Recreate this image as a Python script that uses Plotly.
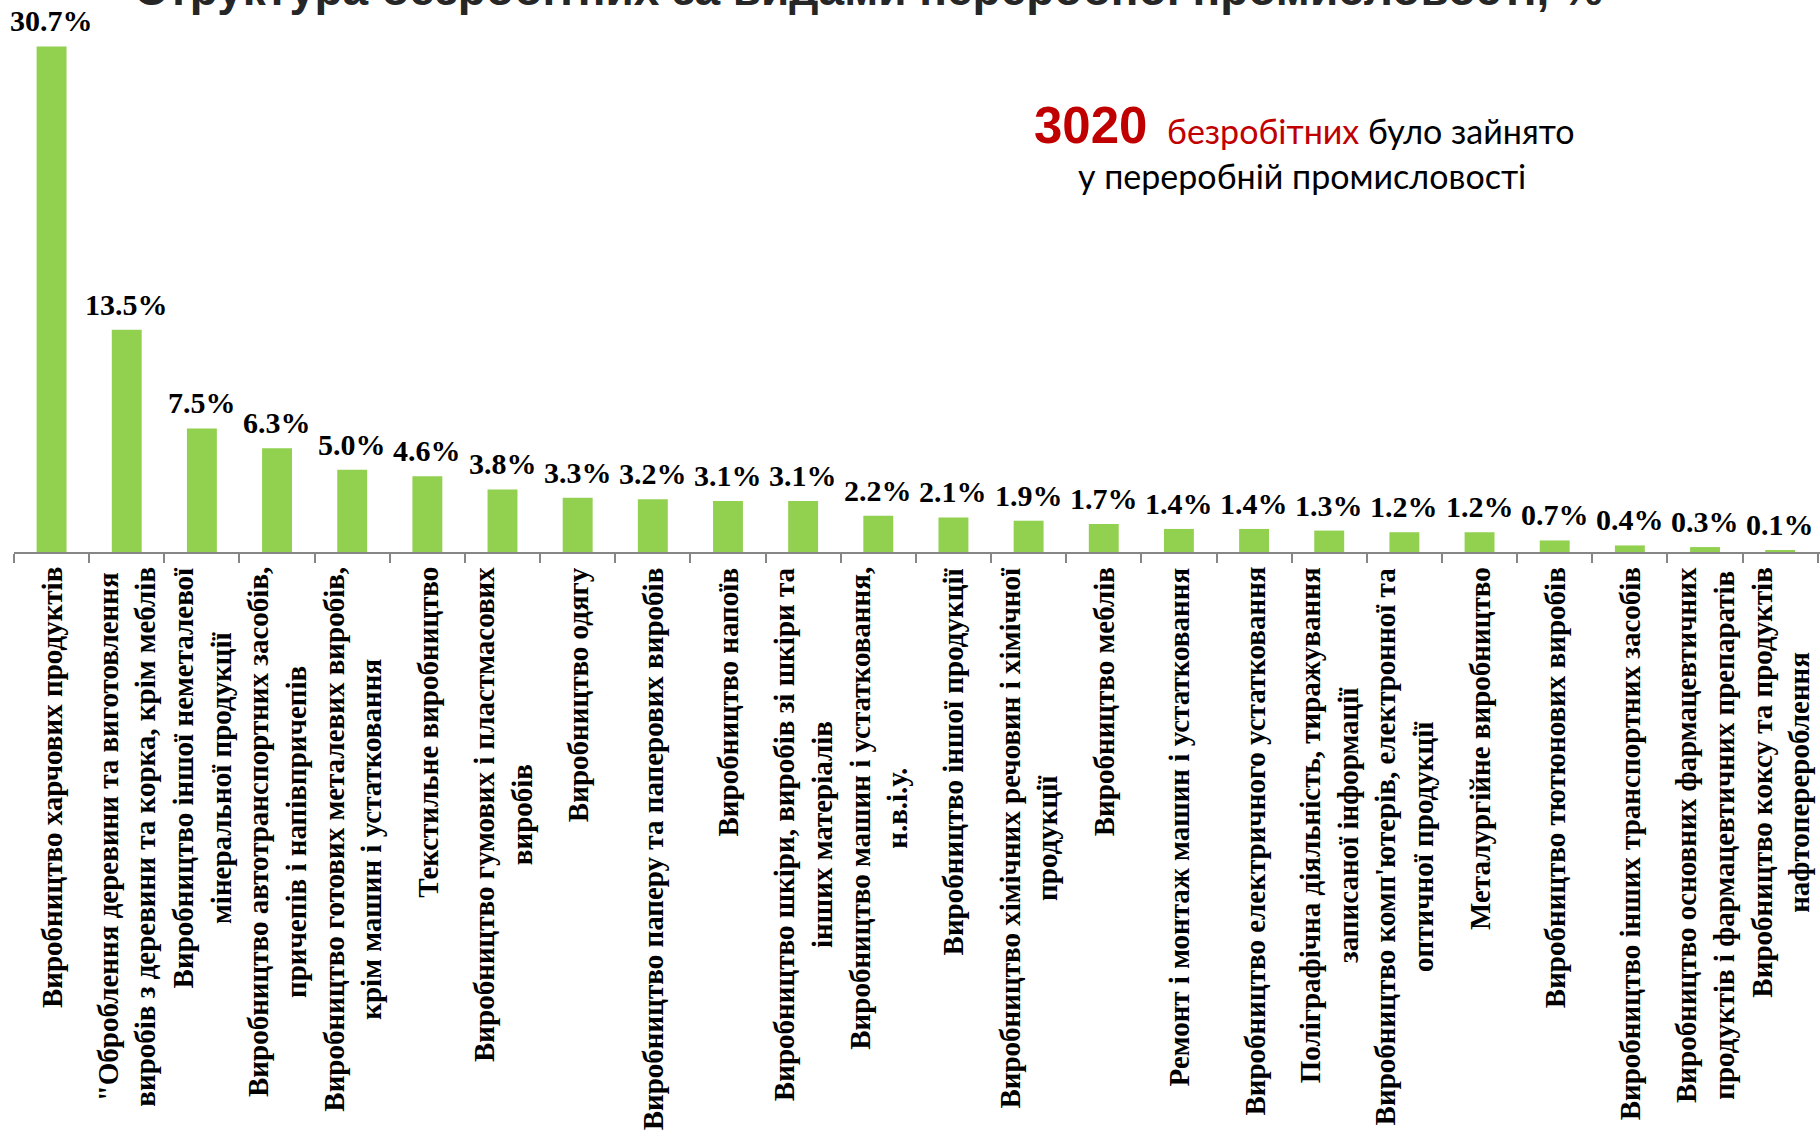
import plotly.graph_objects as go

categories = [
    "Виробництво харчових продуктів",
    "\"Оброблення деревини та виготовлення<br>виробів з деревини та корка, крім меблів",
    "Виробництво іншої неметалевої<br>мінеральної продукції",
    "Виробництво автотранспортних засобів,<br>причепів і напівпричепів",
    "Виробництво готових металевих виробів,<br>крім машин і устатковання",
    "Текстильне виробництво",
    "Виробництво гумових і пластмасових<br>виробів",
    "Виробництво одягу",
    "Виробництво паперу та паперових виробів",
    "Виробництво напоїв",
    "Виробництво шкіри, виробів зі шкіри та<br>інших матеріалів",
    "Виробництво машин і устатковання,<br>н.в.і.у.",
    "Виробництво іншої продукції",
    "Виробництво хімічних речовин і хімічної<br>продукції",
    "Виробництво меблів",
    "Ремонт і монтаж машин і устатковання",
    "Виробництво електричного устатковання",
    "Поліграфічна діяльність, тиражування<br>записаної інформації",
    "Виробництво комп'ютерів, електронної та<br>оптичної продукції",
    "Металургійне виробництво",
    "Виробництво тютюнових виробів",
    "Виробництво інших транспортних засобів",
    "Виробництво основних фармацевтичних<br>продуктів і фармацевтичних препаратів",
    "Виробництво коксу та продуктів<br>нафтоперероблення",
]
values = [30.7, 13.5, 7.5, 6.3, 5.0, 4.6, 3.8, 3.3, 3.2, 3.1, 3.1, 2.2,
          2.1, 1.9, 1.7, 1.4, 1.4, 1.3, 1.2, 1.2, 0.7, 0.4, 0.3, 0.1]
value_labels = [f"{v:.1f}%" for v in values]
title_text = "Структура безробітних за видами переробної промисловості, %"
note_number = "3020"
note_red = "безробітних"
note_rest = "було зайнято"
note_line2 = "у переробній промисловості"

cat_keys = [c.replace("<br>", " ") for c in categories]

fig = go.Figure(go.Bar(
    x=cat_keys, y=values,
    marker=dict(color="#92D050", line=dict(width=0)),
    hoverinfo="skip",
))

ann = []
serif = "Liberation Serif"
for k, lab in zip(cat_keys, categories):
    ann.append(dict(
        x=k, xref="x", y=0, yref="paper", yanchor="top", yshift=-13,
        xanchor="center", textangle=-90, align="center", showarrow=False,
        text=f"<b>{lab}</b>", font=dict(family=serif, size=29, color="black"),
    ))
for k, v, t in zip(cat_keys, values, value_labels):
    ann.append(dict(
        x=k, xref="x", y=v, yref="y", yanchor="bottom", yshift=7,
        xanchor="center", showarrow=False,
        text=f"<b>{t}</b>", font=dict(family=serif, size=30, color="black"),
    ))

# title (cut off at top as in reference)
ann.append(dict(
    x=0.4734, xref="paper", y=1, yref="paper", yanchor="bottom", yshift=-17,
    xanchor="center", showarrow=False, text=f"<b>{title_text}</b>",
    font=dict(family="Liberation Sans", size=46, color="#262626"),
))

# note text
ann.append(dict(
    x=0.6285, xref="paper", y=1, yref="paper", yanchor="top", yshift=-95,
    xanchor="right", showarrow=False, text=f"<b>{note_number}</b>",
    font=dict(family="Liberation Sans", size=51, color="#C00000"),
))
ann.append(dict(
    x=0.6375, xref="paper", y=1, yref="paper", yanchor="top", yshift=-108,
    xanchor="left", showarrow=False,
    text=f"<span style='color:#C00000'>{note_red}</span> {note_rest}",
    font=dict(family="Lato", size=34, color="black"),
))
ann.append(dict(
    x=0.713, xref="paper", y=1, yref="paper", yanchor="top", yshift=-153,
    xanchor="center", showarrow=False, text=note_line2,
    font=dict(family="Lato", size=34, color="black"),
))

fig.update_layout(
    width=1820, height=1142,
    margin=dict(l=14, r=0, t=0, b=590, pad=0),
    paper_bgcolor="white", plot_bgcolor="white",
    bargap=0.602, showlegend=False,
    annotations=ann,
    xaxis=dict(showticklabels=False, ticks="outside", tickson="boundaries",
               ticklen=9, tickcolor="#868686", tickwidth=1.5,
               showline=True, linecolor="#868686", linewidth=1.5,
               range=[-0.5, 23.53],
               showgrid=False, zeroline=False, fixedrange=True),
    yaxis=dict(visible=False, range=[0, 33.52], showgrid=False,
               zeroline=False, fixedrange=True),
)

fig.write_html("out.html", config={"displayModeBar": False},
               post_script="document.body.style.margin='0';document.body.style.overflow='hidden';")
